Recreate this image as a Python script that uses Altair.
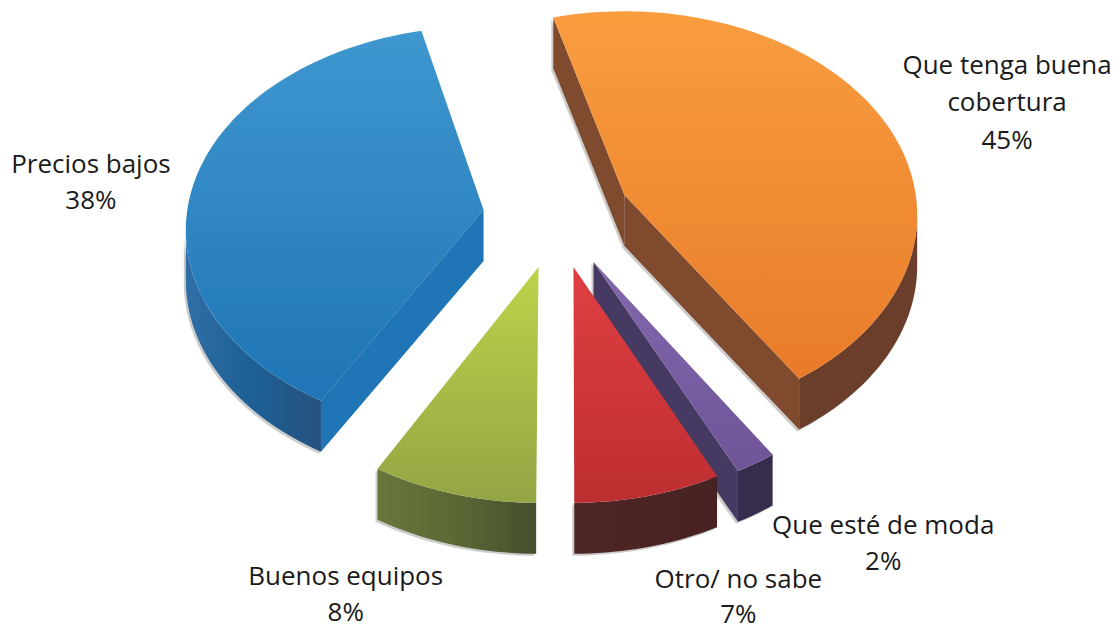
import math
import altair as alt

# data
categories = ["Que tenga buena cobertura", "Que esté de moda", "Otro/ no sabe", "Buenos equipos", "Precios bajos"]
shares = [45, 2, 7, 8, 38]

# layout of the drawing (projection of a tilted, exploded pie)
CENTERS = [(625, 195), (594, 262), (574, 267), (539, 267), (484, 210)]
RIM_A = [293, 295, 295, 295, 298]
RIM_B = [204, 210, 210, 210, 204]
RIM_SHIFT = [20, 26, 26, 26, 20]
DEPTH = 51
START = -14
OFF = 8  # page margin
# small perspective corrections of each slice's two edges, in degrees
NUDGE = [(-2, -0.4), (-1.2, -1.2), (-1, -0.6), (0, 0), (0, 0)]


def warp(t):
    return t + 8 * math.sin(math.radians(t - 180))


def pt(i, t, d=0):
    c = CENTERS[i]
    r = math.radians(t)
    return (c[0] + RIM_A[i] * math.sin(r), c[1] + RIM_SHIFT[i] - RIM_B[i] * math.cos(r) + d)


def rng(a, b, step=1.5):
    n = max(2, int(abs(b - a) / step))
    return [a + (b - a) * i / n for i in range(n + 1)]


def feature(pts):
    ring = [[x - OFF, y - OFF] for x, y in pts]
    ring.append(ring[0])
    return [{"type": "Feature", "properties": {}, "geometry": {"type": "Polygon", "coordinates": [ring]}}]


def grad(stops, horizontal=False):
    n = len(stops) - 1
    return alt.LinearGradient(
        gradient="linear",
        x1=0, y1=0,
        x2=1 if horizontal else 0,
        y2=0 if horizontal else 1,
        stops=[alt.GradientStop(color=c, offset=i / n) for i, c in enumerate(stops)],
    )


def shape(pts, fill, **kw):
    return alt.Chart(alt.InlineData(values=feature(pts))).mark_geoshape(fill=fill, stroke=None, **kw).project(
        type="identity", scale=1, translate=[0, 0])


def shadow(pts):
    return shape([(x - 2, y + 2) for x, y in pts], "#9a9a9a", opacity=0.5)


# angular spans from the shares
spans = []
cur = START
for s, (na, nb) in zip(shares, NUDGE):
    spans.append((warp(cur) + na, warp(cur + s * 3.6) + nb))
    cur += s * 3.6

TOPS = [
    ["#F99D3F", "#E87B2A"], ["#8267AC", "#6F5598"], ["#E03F42", "#BD2E31"],
    ["#BED24A", "#93A544"], ["#3F97D0", "#1F75B5"],
]
OUTER = [
    ["#6A3E2A", "#6A3E2A"], ["#352D4B", "#352D4B"], ["#4F2626", "#472222"],
    ["#68783C", "#5A6835", "#454F2D"], ["#2F6EA6", "#1D5F94", "#26527F"],
]
RADIAL = ["#7F4A2E", "#463A63", "#4A2424", "#5A6835", "#1F75B5"]

wall_layers = []
shadow_layers = []
top_layers = []

for i, (a, b) in enumerate(spans):
    c = CENTERS[i]
    top = [c] + [pt(i, t) for t in rng(a, b)]
    top_layers.append(shape(top, grad(TOPS[i])))

    # outer wall: the part of the rim that faces the viewer
    lo, hi = max(a, 90), min(b, 270)
    if hi > lo:
        ts = rng(lo, hi)
        wall = [pt(i, t) for t in ts] + [pt(i, t, DEPTH) for t in reversed(ts)]
        wall_layers.append(shape(wall, grad(OUTER[i], horizontal=True)))
        shadow_layers.append(shadow(wall))

    # radial walls that face the viewer
    pa, pb = pt(i, a), pt(i, b)
    ca = (c[0], c[1] + DEPTH)
    ends = {0: [pa, pb], 1: [pb], 4: [pa]}.get(i, [])
    for p in ends:
        poly = [c, p, (p[0], p[1] + DEPTH), ca]
        wall_layers.append(shape(poly, RADIAL[i]))
        shadow_layers.append(shadow(poly))

label_lines = ["Que tenga buena", "cobertura", "45%", "Precios bajos", "38%", "Buenos equipos", "8%",
               "Otro/ no sabe", "7%", "Que esté de moda", "2%"]
label_x = [1008, 1008, 1008, 91, 91, 346, 346, 739, 739, 884, 884]
label_y = [66, 103, 141, 165, 201, 577, 613, 580, 615, 526, 562]

text = alt.Chart(alt.InlineData(values=[
    {"t": t, "x": x - OFF, "y": y - OFF} for t, x, y in zip(label_lines, label_x, label_y)
])).mark_text(font="Open Sans", fontSize=26, color="#1a1a1a", align="center", baseline="middle").encode(
    x=alt.X("x:Q", scale=None), y=alt.Y("y:Q", scale=None), text="t:N")

chart = alt.layer(
    *shadow_layers, *wall_layers, *top_layers, text
).properties(width=1104, height=619, padding=0, background="white").configure_view(stroke=None)

chart.save("out.html", embed_options={"renderer": "svg", "actions": False})
